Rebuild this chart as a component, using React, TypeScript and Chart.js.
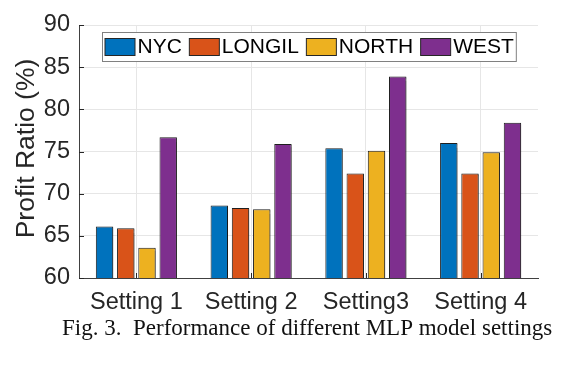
import React, { useEffect, useRef } from "react";
import { Chart, registerables } from "chart.js";

Chart.register(...registerables);

const categories = ["Setting 1", "Setting 2", "Setting3", "Setting 4"];
const seriesNames = ["NYC", "LONGIL", "NORTH", "WEST"];
const nycValues = [66.1, 68.6, 75.4, 76.0];
const longilValues = [65.9, 68.3, 72.4, 72.4];
const northValues = [63.6, 68.15, 75.1, 74.9];
const westValues = [76.7, 75.9, 83.9, 78.4];
const seriesColors = ["#0072BD", "#D95319", "#EDB120", "#7E2F8E"];
const yMin = 60;
const yMax = 90;
const yStep = 5;
const yAxisTitle = "Profit Ratio (%)";
const captionLabel = "Fig. 3.";
const captionText = "Performance of different MLP model settings";

const SANS = '"Liberation Sans", Arial, Helvetica, sans-serif';
const SERIF = '"Liberation Serif", "Times New Roman", serif';
const AXIS_COLOR = "#262626";

const shadowPlugin = {
  id: "barShadow",
  beforeDatasetsDraw(chart: any) {
    const ctx = chart.ctx;
    ctx.save();
    ctx.shadowColor = "rgba(0,0,0,0.3)";
    ctx.shadowOffsetX = 2;
    ctx.shadowOffsetY = 1;
    ctx.shadowBlur = 1;
  },
  afterDatasetsDraw(chart: any) {
    chart.ctx.restore();
  },
};

const overlayPlugin = {
  id: "overlay",
  afterDraw(chart: any) {
    const ctx = chart.ctx;
    const a = chart.chartArea;
    const ys = chart.scales.y;
    const xs = chart.scales.x;
    ctx.save();
    // inward tick marks
    ctx.strokeStyle = AXIS_COLOR;
    ctx.lineWidth = 1;
    ys.ticks.forEach((_t: any, i: number) => {
      const y = Math.round(ys.getPixelForTick(i)) + 0.5;
      ctx.beginPath();
      ctx.moveTo(a.left, y);
      ctx.lineTo(a.left + 5, y);
      ctx.stroke();
    });
    xs.ticks.forEach((_t: any, i: number) => {
      const x = Math.round(xs.getPixelForTick(i)) + 0.5;
      ctx.beginPath();
      ctx.moveTo(x, a.bottom);
      ctx.lineTo(x, a.bottom - 5);
      ctx.stroke();
    });

    // legend box inside the plot
    ctx.font = `21px ${SANS}`;
    const names = chart.data.datasets.map((d: any) => d.label);
    const widths = names.map((n: string) => ctx.measureText(n).width);
    const sw = 30, sh = 17, gapT = 2.5, gapI = 7.5, pad = 2.5;
    const total =
      pad * 2 +
      names.length * (sw + gapT) +
      widths.reduce((s: number, w: number) => s + w, 0) +
      gapI * (names.length - 1);
    const cx = (a.left + a.right) / 2;
    const left = Math.round(cx - total / 2) + 0.5;
    const top = 32.5;
    const h = 29;
    ctx.fillStyle = "#ffffff";
    ctx.fillRect(left, top, total, h);
    ctx.strokeStyle = "#808080";
    ctx.strokeRect(left, top, total, h);
    let x = left + pad;
    const cy = top + h / 2;
    names.forEach((n: string, i: number) => {
      const col = chart.data.datasets[i].backgroundColor;
      ctx.fillStyle = col;
      ctx.fillRect(x, cy - sh / 2, sw, sh);
      ctx.strokeStyle = AXIS_COLOR;
      ctx.strokeRect(x, cy - sh / 2, sw, sh);
      x += sw + gapT;
      ctx.fillStyle = "#000000";
      ctx.textAlign = "left";
      ctx.textBaseline = "middle";
      ctx.fillText(n, x, cy + 0.5);
      x += widths[i] + gapI;
    });

    // y axis title
    ctx.save();
    ctx.translate(27, (a.top + a.bottom) / 2 - 3);
    ctx.rotate(-Math.PI / 2);
    ctx.font = `26.5px ${SANS}`;
    ctx.fillStyle = AXIS_COLOR;
    ctx.textAlign = "center";
    ctx.textBaseline = "middle";
    ctx.fillText(yAxisTitle, 0, 0);
    ctx.restore();

    // caption
    ctx.font = `23px ${SERIF}`;
    ctx.fillStyle = "#111111";
    ctx.textAlign = "left";
    ctx.textBaseline = "alphabetic";
    ctx.fillText(captionLabel, 62, 335);
    ctx.fillText(captionText, 133, 335);
    ctx.restore();
  },
};

export default function App() {
  const canvasRef = useRef<HTMLCanvasElement | null>(null);

  useEffect(() => {
    const canvas = canvasRef.current;
    if (!canvas) return;
    const seriesValues = [nycValues, longilValues, northValues, westValues];
    const chart = new Chart(canvas, {
      type: "bar",
      data: {
        labels: categories,
        datasets: seriesNames.map((name, i) => ({
          label: name,
          data: seriesValues[i],
          backgroundColor: seriesColors[i],
          borderColor: "#1f1f1f",
          borderWidth: 1,
          borderSkipped: false,
          categoryPercentage: 0.74,
          barPercentage: 0.82,
        })),
      },
      options: {
        responsive: false,
        animation: false,
        devicePixelRatio: 1,
        layout: { padding: { left: 0, right: 28, top: 25, bottom: 0 } },
        plugins: {
          legend: { display: false },
          tooltip: { enabled: false },
          title: { display: false },
        },
        scales: {
          x: {
            grid: {
              offset: false,
              color: "#e6e6e6",
              drawTicks: false,
              lineWidth: 1,
            },
            border: { display: true, color: "#404040", width: 1 },
            ticks: {
              color: AXIS_COLOR,
              font: { family: SANS, size: 23.5 },
              padding: 10,
              maxRotation: 0,
              autoSkip: false,
            },
            afterFit: (scale: any) => {
              scale.height = 92;
            },
          },
          y: {
            min: yMin,
            max: yMax,
            grid: { color: "#e6e6e6", drawTicks: false, lineWidth: 1 },
            border: { display: true, color: "#404040", width: 1 },
            ticks: {
              stepSize: yStep,
              color: AXIS_COLOR,
              font: { family: SANS, size: 23.5 },
              padding: 9,
            },
            afterFit: (scale: any) => {
              scale.width = 79;
            },
          },
        },
      },
      plugins: [shadowPlugin, overlayPlugin],
    });
    return () => chart.destroy();
  }, []);

  return (
    <div
      style={{
        position: "absolute",
        left: 0,
        top: 0,
        width: 566,
        height: 370,
        background: "#ffffff",
      }}
    >
      <canvas
        ref={canvasRef}
        width={566}
        height={370}
        style={{ display: "block", width: 566, height: 370 }}
      />
    </div>
  );
}
